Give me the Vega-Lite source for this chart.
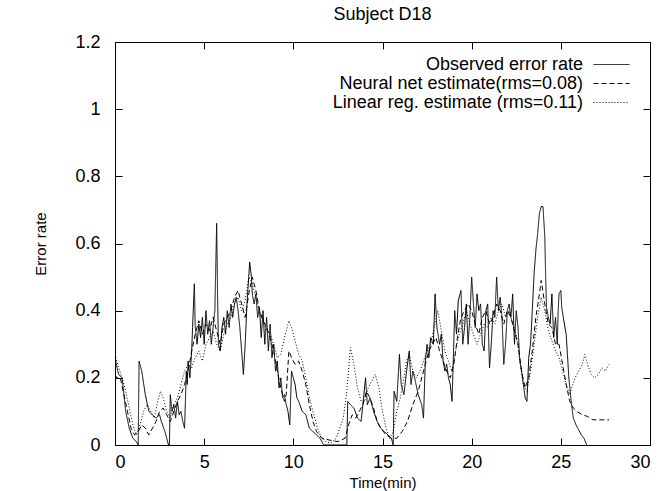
{
"$schema": "https://vega.github.io/schema/vega-lite/v6.json",
"width": 535, "height": 403,
"autosize": "none",
"padding": {"left": 115, "top": 42, "right": 9, "bottom": 46},
"background": "white",
"title": {"text": "Subject D18", "fontSize": 18, "font": "Liberation Sans", "fontWeight": "normal", "offset": 9, "color": "black"},
"config": {
  "view": {"stroke": "black", "strokeWidth": 1},
  "font": "Liberation Sans",
  "axis": {"domain": false, "grid": false, "tickSize": -7, "tickColor": "black", "tickWidth": 1, "labelFontSize": 18, "labelColor": "black", "labelFont": "Liberation Sans", "titleFontSize": 15, "titleFontWeight": "normal", "titleColor": "black", "titleFont": "Liberation Sans"}
},
"data": {"values": [
{"s":"o","t":0.0,"v":0.26},{"s":"o","t":0.2,"v":0.21},{"s":"o","t":0.4,"v":0.2},{"s":"o","t":0.6,"v":0.1},{"s":"o","t":0.8,"v":0.05},{"s":"o","t":1.0,"v":0.02},{"s":"o","t":1.2,"v":0.01},{"s":"o","t":1.3,"v":0.0},{"s":"o","t":1.35,"v":0.25},{"s":"o","t":1.5,"v":0.22},{"s":"o","t":1.7,"v":0.15},{"s":"o","t":1.9,"v":0.1},{"s":"o","t":2.1,"v":0.09},{"s":"o","t":2.3,"v":0.08},{"s":"o","t":2.5,"v":0.09},{"s":"o","t":2.6,"v":0.07},{"s":"o","t":2.8,"v":0.04},{"s":"o","t":3.0,"v":0.0},{"s":"o","t":3.05,"v":0.0},{"s":"o","t":3.1,"v":0.15},{"s":"o","t":3.2,"v":0.1},{"s":"o","t":3.3,"v":0.12},{"s":"o","t":3.4,"v":0.08},{"s":"o","t":3.5,"v":0.13},{"s":"o","t":3.6,"v":0.09},{"s":"o","t":3.7,"v":0.1},{"s":"o","t":3.8,"v":0.07},{"s":"o","t":3.9,"v":0.05},{"s":"o","t":4.0,"v":0.22},{"s":"o","t":4.05,"v":0.18},{"s":"o","t":4.1,"v":0.25},{"s":"o","t":4.2,"v":0.2},{"s":"o","t":4.3,"v":0.28},{"s":"o","t":4.35,"v":0.35},{"s":"o","t":4.45,"v":0.48},{"s":"o","t":4.5,"v":0.35},{"s":"o","t":4.6,"v":0.3},{"s":"o","t":4.7,"v":0.36},{"s":"o","t":4.8,"v":0.32},{"s":"o","t":4.9,"v":0.38},{"s":"o","t":5.0,"v":0.3},{"s":"o","t":5.1,"v":0.4},{"s":"o","t":5.2,"v":0.33},{"s":"o","t":5.3,"v":0.37},{"s":"o","t":5.4,"v":0.3},{"s":"o","t":5.5,"v":0.35},{"s":"o","t":5.6,"v":0.4},{"s":"o","t":5.7,"v":0.66},{"s":"o","t":5.75,"v":0.45},{"s":"o","t":5.8,"v":0.3},{"s":"o","t":5.9,"v":0.28},{"s":"o","t":6.0,"v":0.35},{"s":"o","t":6.1,"v":0.38},{"s":"o","t":6.2,"v":0.33},{"s":"o","t":6.3,"v":0.4},{"s":"o","t":6.4,"v":0.35},{"s":"o","t":6.5,"v":0.42},{"s":"o","t":6.6,"v":0.38},{"s":"o","t":6.7,"v":0.42},{"s":"o","t":6.8,"v":0.44},{"s":"o","t":6.9,"v":0.4},{"s":"o","t":7.0,"v":0.35},{"s":"o","t":7.1,"v":0.28},{"s":"o","t":7.2,"v":0.21},{"s":"o","t":7.3,"v":0.3},{"s":"o","t":7.4,"v":0.42},{"s":"o","t":7.5,"v":0.5},{"s":"o","t":7.55,"v":0.545},{"s":"o","t":7.65,"v":0.5},{"s":"o","t":7.7,"v":0.45},{"s":"o","t":7.8,"v":0.42},{"s":"o","t":7.9,"v":0.45},{"s":"o","t":8.0,"v":0.38},{"s":"o","t":8.1,"v":0.41},{"s":"o","t":8.2,"v":0.32},{"s":"o","t":8.3,"v":0.4},{"s":"o","t":8.4,"v":0.3},{"s":"o","t":8.5,"v":0.38},{"s":"o","t":8.6,"v":0.28},{"s":"o","t":8.7,"v":0.36},{"s":"o","t":8.8,"v":0.26},{"s":"o","t":8.9,"v":0.3},{"s":"o","t":9.0,"v":0.22},{"s":"o","t":9.1,"v":0.25},{"s":"o","t":9.2,"v":0.17},{"s":"o","t":9.3,"v":0.2},{"s":"o","t":9.4,"v":0.14},{"s":"o","t":9.5,"v":0.15},{"s":"o","t":9.6,"v":0.12},{"s":"o","t":9.7,"v":0.1},{"s":"o","t":9.8,"v":0.06},{"s":"o","t":9.9,"v":0.22},{"s":"o","t":10.0,"v":0.2},{"s":"o","t":10.1,"v":0.18},{"s":"o","t":10.2,"v":0.14},{"s":"o","t":10.3,"v":0.13},{"s":"o","t":10.5,"v":0.1},{"s":"o","t":10.7,"v":0.09},{"s":"o","t":10.9,"v":0.05},{"s":"o","t":11.1,"v":0.04},{"s":"o","t":11.3,"v":0.03},{"s":"o","t":11.5,"v":0.02},{"s":"o","t":11.7,"v":0.0},{"s":"o","t":13.0,"v":0.0},{"s":"o","t":13.05,"v":0.13},{"s":"o","t":13.2,"v":0.12},{"s":"o","t":13.4,"v":0.11},{"s":"o","t":13.6,"v":0.08},{"s":"o","t":13.8,"v":0.07},{"s":"o","t":13.9,"v":0.12},{"s":"o","t":14.05,"v":0.2},{"s":"o","t":14.15,"v":0.12},{"s":"o","t":14.3,"v":0.14},{"s":"o","t":14.5,"v":0.1},{"s":"o","t":14.7,"v":0.07},{"s":"o","t":14.9,"v":0.05},{"s":"o","t":15.1,"v":0.04},{"s":"o","t":15.3,"v":0.03},{"s":"o","t":15.5,"v":0.02},{"s":"o","t":15.6,"v":0.0},{"s":"o","t":15.65,"v":0.16},{"s":"o","t":15.8,"v":0.13},{"s":"o","t":15.95,"v":0.27},{"s":"o","t":16.05,"v":0.18},{"s":"o","t":16.2,"v":0.15},{"s":"o","t":16.35,"v":0.22},{"s":"o","t":16.5,"v":0.28},{"s":"o","t":16.6,"v":0.18},{"s":"o","t":16.7,"v":0.22},{"s":"o","t":16.8,"v":0.2},{"s":"o","t":17.0,"v":0.15},{"s":"o","t":17.2,"v":0.12},{"s":"o","t":17.3,"v":0.08},{"s":"o","t":17.4,"v":0.25},{"s":"o","t":17.5,"v":0.3},{"s":"o","t":17.6,"v":0.26},{"s":"o","t":17.7,"v":0.32},{"s":"o","t":17.85,"v":0.3},{"s":"o","t":17.95,"v":0.45},{"s":"o","t":18.05,"v":0.35},{"s":"o","t":18.2,"v":0.3},{"s":"o","t":18.3,"v":0.33},{"s":"o","t":18.4,"v":0.25},{"s":"o","t":18.5,"v":0.22},{"s":"o","t":18.6,"v":0.24},{"s":"o","t":18.7,"v":0.2},{"s":"o","t":18.8,"v":0.18},{"s":"o","t":18.9,"v":0.13},{"s":"o","t":19.05,"v":0.4},{"s":"o","t":19.15,"v":0.33},{"s":"o","t":19.25,"v":0.43},{"s":"o","t":19.4,"v":0.46},{"s":"o","t":19.5,"v":0.3},{"s":"o","t":19.6,"v":0.35},{"s":"o","t":19.7,"v":0.42},{"s":"o","t":19.8,"v":0.3},{"s":"o","t":19.9,"v":0.38},{"s":"o","t":20.0,"v":0.5},{"s":"o","t":20.1,"v":0.42},{"s":"o","t":20.2,"v":0.35},{"s":"o","t":20.3,"v":0.45},{"s":"o","t":20.4,"v":0.4},{"s":"o","t":20.5,"v":0.42},{"s":"o","t":20.6,"v":0.3},{"s":"o","t":20.7,"v":0.28},{"s":"o","t":20.8,"v":0.4},{"s":"o","t":20.9,"v":0.42},{"s":"o","t":21.0,"v":0.23},{"s":"o","t":21.1,"v":0.3},{"s":"o","t":21.2,"v":0.4},{"s":"o","t":21.3,"v":0.38},{"s":"o","t":21.4,"v":0.5},{"s":"o","t":21.5,"v":0.4},{"s":"o","t":21.6,"v":0.44},{"s":"o","t":21.7,"v":0.38},{"s":"o","t":21.8,"v":0.24},{"s":"o","t":21.9,"v":0.3},{"s":"o","t":22.0,"v":0.4},{"s":"o","t":22.1,"v":0.42},{"s":"o","t":22.2,"v":0.38},{"s":"o","t":22.3,"v":0.45},{"s":"o","t":22.4,"v":0.3},{"s":"o","t":22.5,"v":0.4},{"s":"o","t":22.6,"v":0.35},{"s":"o","t":22.7,"v":0.25},{"s":"o","t":22.8,"v":0.22},{"s":"o","t":22.9,"v":0.18},{"s":"o","t":23.0,"v":0.14},{"s":"o","t":23.1,"v":0.13},{"s":"o","t":23.2,"v":0.26},{"s":"o","t":23.3,"v":0.3},{"s":"o","t":23.4,"v":0.4},{"s":"o","t":23.5,"v":0.51},{"s":"o","t":23.6,"v":0.58},{"s":"o","t":23.7,"v":0.63},{"s":"o","t":23.8,"v":0.69},{"s":"o","t":23.9,"v":0.71},{"s":"o","t":24.0,"v":0.71},{"s":"o","t":24.1,"v":0.62},{"s":"o","t":24.15,"v":0.5},{"s":"o","t":24.2,"v":0.41},{"s":"o","t":24.3,"v":0.38},{"s":"o","t":24.4,"v":0.36},{"s":"o","t":24.5,"v":0.45},{"s":"o","t":24.6,"v":0.32},{"s":"o","t":24.7,"v":0.38},{"s":"o","t":24.8,"v":0.3},{"s":"o","t":24.85,"v":0.4},{"s":"o","t":24.9,"v":0.45},{"s":"o","t":25.0,"v":0.46},{"s":"o","t":25.05,"v":0.41},{"s":"o","t":25.2,"v":0.36},{"s":"o","t":25.3,"v":0.33},{"s":"o","t":25.45,"v":0.2},{"s":"o","t":25.6,"v":0.12},{"s":"o","t":25.7,"v":0.08},{"s":"o","t":25.85,"v":0.06},{"s":"o","t":26.0,"v":0.045},{"s":"o","t":26.15,"v":0.03},{"s":"o","t":26.3,"v":0.02},{"s":"o","t":26.45,"v":0.0},
{"s":"n","t":0.0,"v":0.21},{"s":"n","t":0.1,"v":0.2},{"s":"n","t":0.3,"v":0.2},{"s":"n","t":0.5,"v":0.15},{"s":"n","t":0.7,"v":0.1},{"s":"n","t":0.9,"v":0.05},{"s":"n","t":1.1,"v":0.03},{"s":"n","t":1.3,"v":0.04},{"s":"n","t":1.5,"v":0.06},{"s":"n","t":1.7,"v":0.05},{"s":"n","t":1.9,"v":0.03},{"s":"n","t":2.1,"v":0.05},{"s":"n","t":2.3,"v":0.07},{"s":"n","t":2.5,"v":0.1},{"s":"n","t":2.7,"v":0.11},{"s":"n","t":2.9,"v":0.09},{"s":"n","t":3.1,"v":0.07},{"s":"n","t":3.3,"v":0.1},{"s":"n","t":3.5,"v":0.13},{"s":"n","t":3.7,"v":0.15},{"s":"n","t":3.9,"v":0.18},{"s":"n","t":4.1,"v":0.22},{"s":"n","t":4.3,"v":0.28},{"s":"n","t":4.5,"v":0.33},{"s":"n","t":4.7,"v":0.37},{"s":"n","t":4.9,"v":0.33},{"s":"n","t":5.1,"v":0.36},{"s":"n","t":5.3,"v":0.34},{"s":"n","t":5.5,"v":0.38},{"s":"n","t":5.7,"v":0.34},{"s":"n","t":5.9,"v":0.3},{"s":"n","t":6.1,"v":0.36},{"s":"n","t":6.3,"v":0.38},{"s":"n","t":6.5,"v":0.4},{"s":"n","t":6.7,"v":0.44},{"s":"n","t":6.9,"v":0.46},{"s":"n","t":7.1,"v":0.42},{"s":"n","t":7.3,"v":0.38},{"s":"n","t":7.5,"v":0.45},{"s":"n","t":7.7,"v":0.5},{"s":"n","t":7.9,"v":0.46},{"s":"n","t":8.1,"v":0.4},{"s":"n","t":8.3,"v":0.37},{"s":"n","t":8.5,"v":0.35},{"s":"n","t":8.7,"v":0.32},{"s":"n","t":8.9,"v":0.28},{"s":"n","t":9.1,"v":0.22},{"s":"n","t":9.3,"v":0.17},{"s":"n","t":9.5,"v":0.13},{"s":"n","t":9.6,"v":0.15},{"s":"n","t":9.75,"v":0.28},{"s":"n","t":9.9,"v":0.26},{"s":"n","t":10.1,"v":0.24},{"s":"n","t":10.3,"v":0.25},{"s":"n","t":10.5,"v":0.22},{"s":"n","t":10.7,"v":0.18},{"s":"n","t":10.9,"v":0.12},{"s":"n","t":11.1,"v":0.07},{"s":"n","t":11.3,"v":0.04},{"s":"n","t":11.6,"v":0.02},{"s":"n","t":12.0,"v":0.015},{"s":"n","t":12.5,"v":0.01},{"s":"n","t":12.9,"v":0.02},{"s":"n","t":13.1,"v":0.06},{"s":"n","t":13.3,"v":0.09},{"s":"n","t":13.5,"v":0.08},{"s":"n","t":13.7,"v":0.1},{"s":"n","t":13.9,"v":0.12},{"s":"n","t":14.1,"v":0.16},{"s":"n","t":14.3,"v":0.14},{"s":"n","t":14.5,"v":0.11},{"s":"n","t":14.7,"v":0.07},{"s":"n","t":14.9,"v":0.05},{"s":"n","t":15.2,"v":0.03},{"s":"n","t":15.5,"v":0.02},{"s":"n","t":15.8,"v":0.02},{"s":"n","t":16.1,"v":0.04},{"s":"n","t":16.4,"v":0.07},{"s":"n","t":16.7,"v":0.12},{"s":"n","t":17.0,"v":0.16},{"s":"n","t":17.2,"v":0.2},{"s":"n","t":17.4,"v":0.24},{"s":"n","t":17.6,"v":0.28},{"s":"n","t":17.8,"v":0.3},{"s":"n","t":18.0,"v":0.32},{"s":"n","t":18.2,"v":0.28},{"s":"n","t":18.4,"v":0.25},{"s":"n","t":18.6,"v":0.22},{"s":"n","t":18.8,"v":0.2},{"s":"n","t":19.0,"v":0.24},{"s":"n","t":19.2,"v":0.32},{"s":"n","t":19.4,"v":0.38},{"s":"n","t":19.6,"v":0.4},{"s":"n","t":19.8,"v":0.42},{"s":"n","t":20.0,"v":0.4},{"s":"n","t":20.2,"v":0.36},{"s":"n","t":20.4,"v":0.33},{"s":"n","t":20.6,"v":0.38},{"s":"n","t":20.8,"v":0.4},{"s":"n","t":21.0,"v":0.36},{"s":"n","t":21.2,"v":0.38},{"s":"n","t":21.4,"v":0.42},{"s":"n","t":21.6,"v":0.4},{"s":"n","t":21.8,"v":0.36},{"s":"n","t":22.0,"v":0.4},{"s":"n","t":22.2,"v":0.38},{"s":"n","t":22.4,"v":0.34},{"s":"n","t":22.6,"v":0.3},{"s":"n","t":22.8,"v":0.22},{"s":"n","t":23.0,"v":0.17},{"s":"n","t":23.2,"v":0.2},{"s":"n","t":23.4,"v":0.28},{"s":"n","t":23.6,"v":0.38},{"s":"n","t":23.8,"v":0.45},{"s":"n","t":23.9,"v":0.49},{"s":"n","t":24.1,"v":0.42},{"s":"n","t":24.3,"v":0.36},{"s":"n","t":24.5,"v":0.35},{"s":"n","t":24.7,"v":0.3},{"s":"n","t":24.9,"v":0.3},{"s":"n","t":25.1,"v":0.24},{"s":"n","t":25.3,"v":0.18},{"s":"n","t":25.5,"v":0.13},{"s":"n","t":25.7,"v":0.11},{"s":"n","t":25.9,"v":0.1},{"s":"n","t":26.2,"v":0.09},{"s":"n","t":26.5,"v":0.085},{"s":"n","t":26.8,"v":0.075},{"s":"n","t":27.1,"v":0.075},{"s":"n","t":27.4,"v":0.075},{"s":"n","t":27.7,"v":0.075},
{"s":"l","t":0.0,"v":0.27},{"s":"l","t":0.2,"v":0.23},{"s":"l","t":0.4,"v":0.2},{"s":"l","t":0.6,"v":0.16},{"s":"l","t":0.8,"v":0.11},{"s":"l","t":1.0,"v":0.06},{"s":"l","t":1.2,"v":0.03},{"s":"l","t":1.4,"v":0.06},{"s":"l","t":1.6,"v":0.1},{"s":"l","t":1.8,"v":0.12},{"s":"l","t":2.0,"v":0.1},{"s":"l","t":2.2,"v":0.08},{"s":"l","t":2.4,"v":0.13},{"s":"l","t":2.55,"v":0.16},{"s":"l","t":2.7,"v":0.14},{"s":"l","t":2.9,"v":0.1},{"s":"l","t":3.1,"v":0.08},{"s":"l","t":3.3,"v":0.12},{"s":"l","t":3.5,"v":0.14},{"s":"l","t":3.7,"v":0.18},{"s":"l","t":3.9,"v":0.22},{"s":"l","t":4.1,"v":0.24},{"s":"l","t":4.3,"v":0.23},{"s":"l","t":4.5,"v":0.26},{"s":"l","t":4.7,"v":0.28},{"s":"l","t":4.9,"v":0.25},{"s":"l","t":5.1,"v":0.3},{"s":"l","t":5.3,"v":0.32},{"s":"l","t":5.5,"v":0.34},{"s":"l","t":5.7,"v":0.3},{"s":"l","t":5.9,"v":0.28},{"s":"l","t":6.1,"v":0.33},{"s":"l","t":6.3,"v":0.36},{"s":"l","t":6.5,"v":0.38},{"s":"l","t":6.7,"v":0.42},{"s":"l","t":6.9,"v":0.44},{"s":"l","t":7.1,"v":0.4},{"s":"l","t":7.3,"v":0.43},{"s":"l","t":7.5,"v":0.5},{"s":"l","t":7.7,"v":0.48},{"s":"l","t":7.9,"v":0.44},{"s":"l","t":8.1,"v":0.4},{"s":"l","t":8.3,"v":0.37},{"s":"l","t":8.5,"v":0.34},{"s":"l","t":8.7,"v":0.33},{"s":"l","t":8.9,"v":0.3},{"s":"l","t":9.1,"v":0.26},{"s":"l","t":9.3,"v":0.27},{"s":"l","t":9.5,"v":0.32},{"s":"l","t":9.75,"v":0.37},{"s":"l","t":9.9,"v":0.35},{"s":"l","t":10.1,"v":0.31},{"s":"l","t":10.3,"v":0.27},{"s":"l","t":10.5,"v":0.25},{"s":"l","t":10.7,"v":0.2},{"s":"l","t":10.9,"v":0.14},{"s":"l","t":11.1,"v":0.1},{"s":"l","t":11.3,"v":0.06},{"s":"l","t":11.5,"v":0.03},{"s":"l","t":11.8,"v":0.01},{"s":"l","t":12.1,"v":0.005},{"s":"l","t":12.4,"v":0.02},{"s":"l","t":12.6,"v":0.05},{"s":"l","t":12.8,"v":0.08},{"s":"l","t":13.0,"v":0.16},{"s":"l","t":13.2,"v":0.29},{"s":"l","t":13.4,"v":0.24},{"s":"l","t":13.6,"v":0.17},{"s":"l","t":13.8,"v":0.13},{"s":"l","t":14.0,"v":0.13},{"s":"l","t":14.2,"v":0.17},{"s":"l","t":14.4,"v":0.19},{"s":"l","t":14.6,"v":0.21},{"s":"l","t":14.8,"v":0.17},{"s":"l","t":15.0,"v":0.1},{"s":"l","t":15.2,"v":0.05},{"s":"l","t":15.4,"v":0.02},{"s":"l","t":15.6,"v":0.04},{"s":"l","t":15.8,"v":0.1},{"s":"l","t":16.0,"v":0.14},{"s":"l","t":16.2,"v":0.2},{"s":"l","t":16.35,"v":0.25},{"s":"l","t":16.5,"v":0.27},{"s":"l","t":16.7,"v":0.22},{"s":"l","t":16.9,"v":0.2},{"s":"l","t":17.1,"v":0.22},{"s":"l","t":17.3,"v":0.25},{"s":"l","t":17.5,"v":0.28},{"s":"l","t":17.7,"v":0.3},{"s":"l","t":17.9,"v":0.35},{"s":"l","t":18.1,"v":0.4},{"s":"l","t":18.3,"v":0.34},{"s":"l","t":18.5,"v":0.28},{"s":"l","t":18.7,"v":0.25},{"s":"l","t":18.9,"v":0.22},{"s":"l","t":19.1,"v":0.28},{"s":"l","t":19.3,"v":0.33},{"s":"l","t":19.5,"v":0.36},{"s":"l","t":19.7,"v":0.4},{"s":"l","t":19.9,"v":0.36},{"s":"l","t":20.1,"v":0.33},{"s":"l","t":20.3,"v":0.3},{"s":"l","t":20.5,"v":0.33},{"s":"l","t":20.7,"v":0.36},{"s":"l","t":20.9,"v":0.35},{"s":"l","t":21.1,"v":0.38},{"s":"l","t":21.3,"v":0.36},{"s":"l","t":21.5,"v":0.4},{"s":"l","t":21.7,"v":0.42},{"s":"l","t":21.9,"v":0.38},{"s":"l","t":22.1,"v":0.4},{"s":"l","t":22.3,"v":0.36},{"s":"l","t":22.5,"v":0.33},{"s":"l","t":22.7,"v":0.25},{"s":"l","t":22.9,"v":0.18},{"s":"l","t":23.1,"v":0.16},{"s":"l","t":23.3,"v":0.22},{"s":"l","t":23.5,"v":0.3},{"s":"l","t":23.7,"v":0.38},{"s":"l","t":23.9,"v":0.44},{"s":"l","t":24.1,"v":0.4},{"s":"l","t":24.3,"v":0.34},{"s":"l","t":24.5,"v":0.31},{"s":"l","t":24.7,"v":0.28},{"s":"l","t":24.9,"v":0.26},{"s":"l","t":25.1,"v":0.22},{"s":"l","t":25.3,"v":0.18},{"s":"l","t":25.5,"v":0.15},{"s":"l","t":25.6,"v":0.17},{"s":"l","t":25.8,"v":0.2},{"s":"l","t":26.0,"v":0.22},{"s":"l","t":26.2,"v":0.24},{"s":"l","t":26.35,"v":0.27},{"s":"l","t":26.5,"v":0.24},{"s":"l","t":26.7,"v":0.21},{"s":"l","t":26.9,"v":0.2},{"s":"l","t":27.1,"v":0.21},{"s":"l","t":27.3,"v":0.23},{"s":"l","t":27.5,"v":0.22},{"s":"l","t":27.7,"v":0.24}
]},
"layer": [
  {
    "mark": {"type": "line", "color": "black", "strokeWidth": 1, "clip": true},
    "encoding": {
      "x": {"field": "t", "type": "quantitative", "scale": {"domain": [0, 30], "nice": false}, "axis": {"orient": "bottom", "values": [0, 5, 10, 15, 20, 25, 30], "title": "Time(min)", "labelPadding": 15, "titlePadding": 4}},
      "y": {"field": "v", "type": "quantitative", "scale": {"domain": [0, 1.2], "nice": false}, "axis": {"orient": "left", "values": [0, 0.2, 0.4, 0.6, 0.8, 1, 1.2], "format": "~g", "title": "Error rate", "labelPadding": 22, "titlePadding": 26}},
      "strokeDash": {"field": "s", "type": "nominal", "scale": {"domain": ["o", "n", "l"], "range": [[1, 0], [5, 3], [1, 2]]},
        "legend": {"title": null, "orient": "none", "legendX": 487, "legendY": 13, "labelAlign": "right", "labelOffset": -38, "symbolType": "M-2,0H2", "symbolSize": 324, "symbolStrokeColor": "black", "symbolFillColor": "transparent", "symbolStrokeWidth": 1, "labelFontSize": 18, "labelFont": "Liberation Sans", "labelColor": "black", "rowPadding": 0, "labelLimit": 400,
          "labelExpr": "datum.value == 'o' ? 'Observed error rate' : datum.value == 'n' ? 'Neural net estimate(rms=0.08)' : 'Linear reg. estimate (rms=0.11)'"}}
    }
  },
  {
    "mark": {"type": "point", "opacity": 0},
    "encoding": {
      "x": {"field": "t", "type": "quantitative", "scale": {"domain": [0, 30], "nice": false}, "axis": {"orient": "top", "values": [0, 5, 10, 15, 20, 25, 30], "labels": false, "title": null}},
      "y": {"field": "v", "type": "quantitative", "scale": {"domain": [0, 1.2], "nice": false}, "axis": {"orient": "right", "values": [0, 0.2, 0.4, 0.6, 0.8, 1, 1.2], "labels": false, "title": null}}
    }
  }
],
"resolve": {"axis": {"x": "independent", "y": "independent"}}
}
